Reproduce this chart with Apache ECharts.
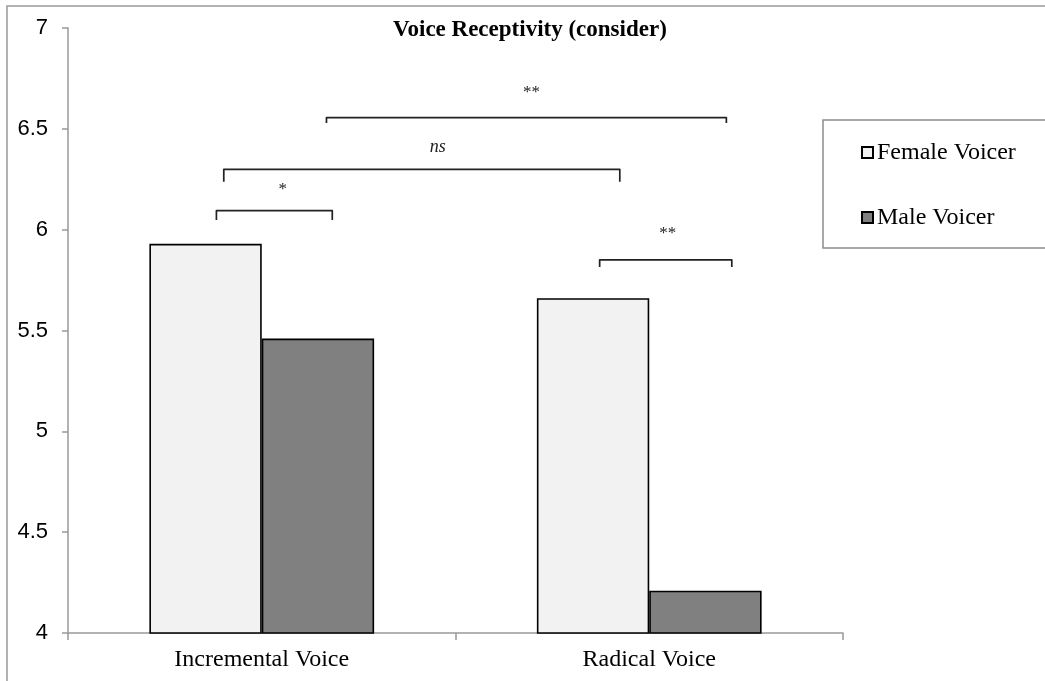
<!DOCTYPE html>
<html>
<head>
<meta charset="utf-8">
<script src="https://cdn.jsdelivr.net/npm/echarts@6/dist/echarts.min.js"></script>
<style>
  html, body { margin: 0; padding: 0; background: #fff; }
  #chart { width: 1045px; height: 681px; }
</style>
</head>
<body>
<div id="chart"></div>
<script>
// 数据
var categories = ['Incremental Voice', 'Radical Voice'];
var femaleValues = [5.93, 5.66];
var maleValues = [5.46, 4.21];
var yTicks = [4, 4.5, 5, 5.5, 6, 6.5, 7];

// 显著性标注（x 以类别宽度为单位 0..2，y 为数值）
var bracketX1 = [0.383, 0.402, 0.667, 1.372];
var bracketX2 = [0.682, 1.424, 1.699, 1.713];
var bracketY = [6.094, 6.299, 6.556, 5.85];
var bracketDrop = [6.048, 6.238, 6.529, 5.815];
var bracketLabelX = [0.554, 0.954, 1.196, 1.548];
var bracketLabelY = [6.2, 6.41, 6.68, 5.98];
var bracketLabels = ['*', 'ns', '**', '**'];

var serif = '"Liberation Serif", "Times New Roman", serif';

var bracketData = bracketLabels.map(function (t, i) {
  return [bracketX1[i], bracketX2[i], bracketY[i], bracketDrop[i], bracketLabelX[i], bracketLabelY[i], t];
});

var chart = echarts.init(document.getElementById('chart'), null, { renderer: 'canvas' });

var option = {
  backgroundColor: '#fff',
  animation: false,
  title: {
    text: 'Voice Receptivity (consider)',
    left: 393,
    top: 19,
    padding: 0,
    textStyle: { fontFamily: serif, fontSize: 23, fontWeight: 'bold', color: '#000' }
  },
  graphic: [
    {
      type: 'rect',
      shape: { x: 7, y: 6, width: 1200, height: 800 },
      style: { fill: 'none', stroke: '#999', lineWidth: 1.5 },
      silent: true
    }
  ],
  legend: {
    data: ['Female Voicer', 'Male Voicer'],
    orient: 'vertical',
    left: 823,
    top: 120,
    padding: [20, 200, 18, 38],
    itemGap: 40,
    itemWidth: 11,
    itemHeight: 11,
    icon: 'rect',
    borderColor: '#8c8c8c',
    borderWidth: 1.5,
    selectedMode: false,
    textStyle: { fontFamily: serif, fontSize: 24, lineHeight: 25, color: '#000', padding: [0, 0, 0, -1] }
  },
  grid: {
    left: 68,
    top: 28,
    width: 775,
    height: 605,
    containLabel: false
  },
  xAxis: [
    {
      type: 'category',
      data: categories,
      axisLine: { lineStyle: { color: '#999', width: 1.5 } },
      axisTick: { show: true, length: 7, lineStyle: { color: '#999', width: 1.5 } },
      axisLabel: { fontFamily: serif, fontSize: 24, color: '#000', margin: 15 },
      splitLine: { show: false }
    },
    {
      type: 'value',
      min: 0,
      max: 2,
      show: false
    }
  ],
  yAxis: {
    type: 'value',
    min: yTicks[0],
    max: yTicks[yTicks.length - 1],
    interval: 0.5,
    axisLine: { show: true, lineStyle: { color: '#999', width: 1.5 } },
    axisTick: { show: true, length: 6, lineStyle: { color: '#999', width: 1.5 } },
    axisLabel: { fontFamily: '"Liberation Sans", Arial, sans-serif', fontSize: 22, color: '#000', margin: 20 },
    splitLine: { show: false }
  },
  series: [
    {
      name: 'Female Voicer',
      type: 'bar',
      data: femaleValues,
      barGap: '0%',
      barCategoryGap: '42%',
      itemStyle: { color: '#f2f2f2', borderColor: '#000', borderWidth: 1.6 }
    },
    {
      name: 'Male Voicer',
      type: 'bar',
      data: maleValues,
      itemStyle: { color: '#808080', borderColor: '#000', borderWidth: 1.6 }
    },
    {
      name: 'brackets',
      type: 'custom',
      xAxisIndex: 1,
      yAxisIndex: 0,
      silent: true,
      data: bracketData,
      renderItem: function (params, api) {
        var p1 = api.coord([api.value(0), api.value(3)]);
        var p2 = api.coord([api.value(0), api.value(2)]);
        var p3 = api.coord([api.value(1), api.value(2)]);
        var p4 = api.coord([api.value(1), api.value(3)]);
        var lp = api.coord([api.value(4), api.value(5)]);
        var txt = bracketData[params.dataIndex][6];
        return {
          type: 'group',
          children: [
            {
              type: 'polyline',
              shape: { points: [p1, p2, p3, p4] },
              style: { fill: 'none', stroke: '#222', lineWidth: 1.7, lineJoin: 'round' }
            },
            {
              type: 'text',
              x: lp[0],
              y: lp[1],
              style: {
                text: txt,
                textAlign: 'center',
                textVerticalAlign: 'middle',
                fontFamily: serif,
                fontSize: txt === 'ns' ? 18 : 17,
                fontStyle: txt === 'ns' ? 'italic' : 'normal',
                fill: '#222'
              }
            }
          ]
        };
      }
    }
  ]
};

chart.setOption(option);
</script>
</body>
</html>
